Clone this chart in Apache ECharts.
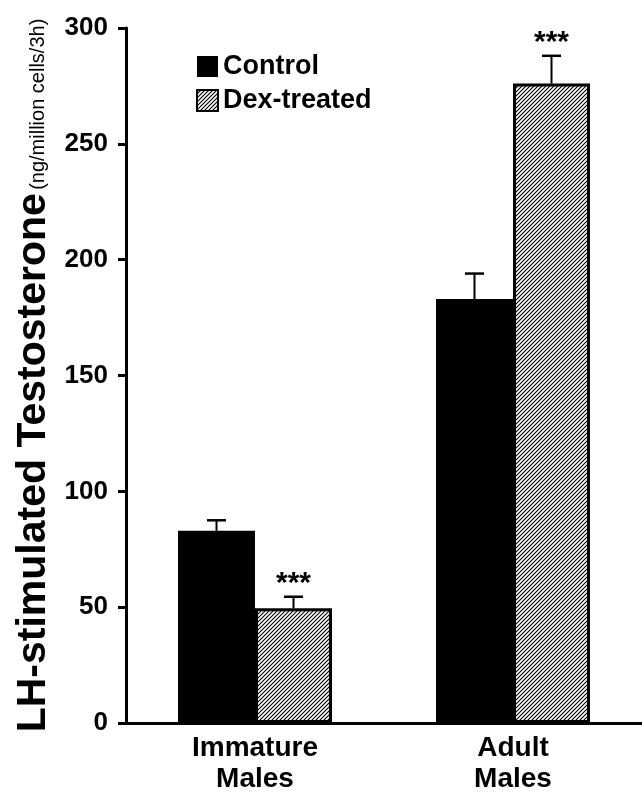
<!DOCTYPE html>
<html>
<head>
<meta charset="utf-8">
<script src="https://cdn.jsdelivr.net/npm/echarts@6/dist/echarts.min.js"></script>
<style>html,body{margin:0;padding:0;background:#fff}#c{width:642px;height:795px}</style>
</head>
<body>
<div id="c"></div>
<script>
// ---- data ----
const categories = ['Immature\nMales', 'Adult\nMales'];
const seriesNames = ['Control', 'Dex-treated'];
const controlValues = [83, 183];
const controlErrTop = [87.5, 194];
const dexValues = [49.5, 276];
const dexErrTop = [54.5, 288];
const dexSignificance = ['***', '***'];
const yTicks = { min: 0, max: 300, interval: 50 };

// ---- style ----
const FONT = 'Liberation Sans, Arial, Helvetica, sans-serif';
const BAR_W = 77;

function hatch() {
  const s = 4;
  const c = document.createElement('canvas');
  c.width = s; c.height = s;
  const g = c.getContext('2d');
  g.fillStyle = '#fff'; g.fillRect(0, 0, s, s);
  g.strokeStyle = '#000'; g.lineWidth = 1.1;
  g.beginPath();
  g.moveTo(-1, s + 1); g.lineTo(s + 1, -1);
  g.moveTo(-1, 1); g.lineTo(1, -1);
  g.moveTo(s - 1, s + 1); g.lineTo(s + 1, s - 1);
  g.stroke();
  return c;
}
const hatchColor = { image: hatch(), repeat: 'repeat' };

function errSeries(vals, tops, offset, marks) {
  return {
    type: 'custom',
    z: 5,
    silent: true,
    data: vals.map((v, i) => [i, v, tops[i]]),
    renderItem: function (params, api) {
      const i = api.value(0);
      const p0 = api.coord([i, api.value(1)]);
      const p1 = api.coord([i, api.value(2)]);
      const x = p0[0] + offset;
      const children = [
        { type: 'line', shape: { x1: x, y1: p0[1], x2: x, y2: p1[1] }, style: { stroke: '#000', lineWidth: 2 } },
        { type: 'line', shape: { x1: x - 9.5, y1: p1[1], x2: x + 9.5, y2: p1[1] }, style: { stroke: '#000', lineWidth: 2.5 } }
      ];
      if (marks) {
        children.push({
          type: 'text',
          style: { x: x, y: p1[1] - 13, text: marks[i], fill: '#000', font: 'bold 30px ' + FONT, align: 'center', verticalAlign: 'middle' }
        });
      }
      return { type: 'group', children: children };
    }
  };
}

const chart = echarts.init(document.getElementById('c'), null, { renderer: 'canvas' });
chart.setOption({
  animation: false,
  backgroundColor: '#fff',
  grid: { left: 126, right: -8, top: 28, bottom: 68 },
  legend: {
    orient: 'vertical',
    left: 191, top: 48,
    itemWidth: 21, itemHeight: 21, itemGap: 7,
    icon: 'rect',
    data: seriesNames,
    textStyle: { fontFamily: FONT, fontWeight: 'bold', fontSize: 27, color: '#000', lineHeight: 21 }
  },
  xAxis: {
    type: 'category',
    data: categories,
    axisLine: { lineStyle: { color: '#000', width: 3 } },
    axisTick: { show: false },
    axisLabel: { color: '#000', fontFamily: FONT, fontWeight: 'bold', fontSize: 28, lineHeight: 31, margin: 10 }
  },
  yAxis: {
    type: 'value',
    min: yTicks.min, max: yTicks.max, interval: yTicks.interval,
    axisLine: { show: true, lineStyle: { color: '#000', width: 3 } },
    axisTick: { show: true, length: 8, lineStyle: { color: '#000', width: 3 } },
    splitLine: { show: false },
    axisLabel: { color: '#000', fontFamily: FONT, fontWeight: 'bold', fontSize: 26, margin: 18 },
    name: '{a|LH-stimulated Testosterone} {b|(ng/million cells/3h)}',
    nameLocation: 'middle',
    nameRotate: 90,
    nameGap: 72,
    nameTextStyle: {
      rich: {
        a: { fontFamily: FONT, fontWeight: 'bold', fontSize: 41, color: '#000', verticalAlign: 'bottom' },
        b: { fontFamily: FONT, fontWeight: 'normal', fontSize: 20, color: '#000', verticalAlign: 'bottom', padding: [0, 0, 5, 0] }
      }
    }
  },
  series: [
    {
      name: seriesNames[0], type: 'bar', data: controlValues,
      barWidth: BAR_W, barGap: '0%',
      itemStyle: { color: '#000', borderColor: '#000', borderWidth: 0 }
    },
    {
      name: seriesNames[1], type: 'bar', data: dexValues,
      barWidth: BAR_W, barGap: '0%',
      itemStyle: { color: hatchColor, borderColor: '#000', borderWidth: 3 }
    },
    errSeries(controlValues, controlErrTop, -BAR_W / 2, null),
    errSeries(dexValues, dexErrTop, BAR_W / 2, dexSignificance)
  ]
});
</script>
</body>
</html>
